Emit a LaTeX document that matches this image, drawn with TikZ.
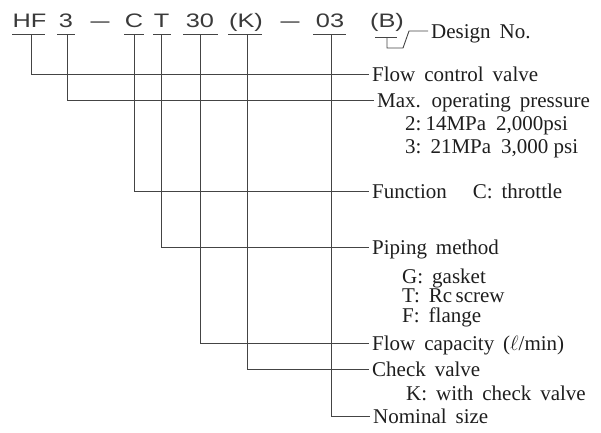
\documentclass[tikz,border=0pt]{standalone}
\usepackage{fontspec}
\setmainfont{Liberation Serif}[WordSpace=1.7]
\newfontfamily\subfont{Liberation Serif}
\newfontfamily\codefont{Liberation Sans}
\definecolor{codecol}{HTML}{3A3A3A}
\definecolor{txtcol}{HTML}{1E1E1E}
\definecolor{lncol}{HTML}{444444}
\newcommand{\wide}[1]{\scalebox{1.3}[1]{#1}}
\begin{document}
\begin{tikzpicture}[x=1pt,y=-1pt,
  code/.style={font=\codefont\fontsize{19.5}{22}\selectfont, text=codecol, inner sep=0pt, anchor=base},
  lab/.style={font=\fontsize{21}{23}\selectfont, text=txtcol, inner xsep=3pt, inner ysep=0pt, text height=19pt, text depth=5pt, anchor=west},
  sub/.style={font=\subfont\fontsize{21}{23}\selectfont, text=txtcol, inner sep=0pt, anchor=base west},
  ln/.style={draw=lncol, line width=0.9pt},
]
\useasboundingbox (0,0) rectangle (601,432);
% code string
\node[code] (hf) at (29.5,27) {\wide{HF}};
\node[code] (n3) at (66,27) {\wide{3}};
\node[code] (d1) at (100,27) {\scalebox{1.75}[1]{–}};
\node[code] (c) at (134,27) {\wide{C}};
\node[code] (t) at (161.5,27) {\wide{T}};
\node[code] (n30) at (200,27) {\wide{30}};
\node[code] (k) at (246,27) {\wide{(K)}};
\node[code] (d2) at (290,27) {\scalebox{1.75}[1]{–}};
\node[code] (n03) at (330,27) {\wide{03}};
\node[code] (b) at (387,27) {\wide{(B)}};
% underlines
\draw[ln] (12,34) -- (45,34);
\draw[ln] (57,34) -- (75,34);
\draw[ln] (124,34) -- (144,34);
\draw[ln] (153,34) -- (171,34);
\draw[ln] (183,34) -- (218,34);
\draw[ln] (228,34) -- (262,34);
\draw[ln] (313,34) -- (346,34);
\draw[ln] (375,37) -- (397,37);
\coordinate (uhf) at (31,34);
\coordinate (u3) at (67,34);
\coordinate (uc) at (134,34);
\coordinate (ut) at (161,34);
\coordinate (u30) at (200,34);
\coordinate (uk) at (247,34);
\coordinate (u03) at (331,34);
\coordinate (ub) at (387,37);
% labels
\node[lab] (ldes) at (428,31) {Design No.};
\node[lab] (lfcv) at (369,74) {Flow control valve};
\node[lab] (lmax) at (374,100) {Max. operating pressure};
\node[sub] (s2) at (405,130) {2:\hspace{4pt}14MPa\hspace{10pt}2,000psi};
\node[sub] (s3) at (405,153) {3:\hspace{9pt}21MPa\hspace{10pt}3,000 psi};
\node[lab] (lfun) at (369,191) {Function\hspace{26pt}C: throttle};
\node[lab] (lpip) at (369,247) {Piping method};
\node[sub] (sg) at (402,283) {G:\hspace{9pt}gasket};
\node[sub] (st) at (402,302) {T:\hspace{9pt}Rc\,screw};
\node[sub] (sf) at (402,322) {F:\hspace{9pt}flange};
\node[lab] (lcap) at (369,343) {Flow capacity ($\ell$/min)};
\node[lab] (lchk) at (369,369) {Check valve};
\node[lab, anchor=base west, inner sep=0pt, text height=, text depth=] (sk) at (406,400) {K: with check valve};
\node[lab] (lnom) at (370,416.5) {Nominal size};
% connectors
\draw[ln] (ub) -- (387,48) -- (403,48) -- (409,31) -- (ldes);
\draw[ln] (uhf) |- (lfcv);
\draw[ln] (u3) |- (lmax);
\draw[ln] (uc) |- (lfun);
\draw[ln] (ut) |- (lpip);
\draw[ln] (u30) |- (lcap);
\draw[ln] (uk) |- (lchk);
\draw[ln] (u03) |- (lnom);
\end{tikzpicture}
\end{document}
